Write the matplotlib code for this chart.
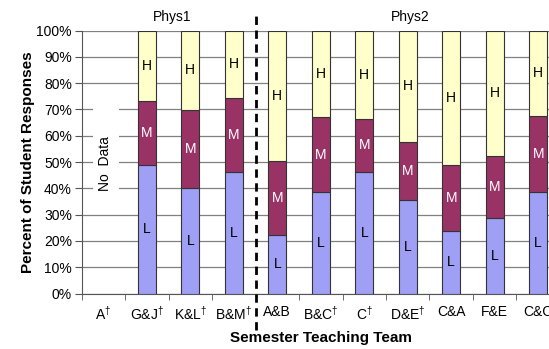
import numpy as np
import matplotlib
matplotlib.use("Agg")
import matplotlib.pyplot as plt
import matplotlib.transforms as mtransforms
from matplotlib.patches import Rectangle

plt.rcParams['font.family'] = ['Liberation Sans', 'DejaVu Sans']
plt.rcParams['mathtext.fontset'] = 'custom'
plt.rcParams['mathtext.rm'] = 'Liberation Sans'
plt.rcParams['mathtext.it'] = 'Liberation Sans'
plt.rcParams['mathtext.bf'] = 'Liberation Sans:bold'

# teams (A has no data)
teams = ['A', 'G&J', 'K&L', 'B&M', 'A&B', 'B&C', 'C', 'D&E', 'C&A', 'F&E', 'C&C']
dagger = [True, True, True, True, False, True, True, True, False, False, False]
low = [np.nan, 48.9, 40.2, 46.3, 22.2, 38.6, 46.2, 35.4, 23.8, 28.6, 38.7]
mid = [np.nan, 24.3, 29.6, 28.0, 28.3, 28.4, 20.3, 22.1, 24.9, 23.8, 28.9]
high = [100 - l - m for l, m in zip(low, mid)]

c_low = '#9F9FF5'
c_mid = '#993366'
c_high = '#FFFFCC'

fig = plt.figure(figsize=(5.49, 3.49), dpi=100)
ax = fig.add_axes([0.1488, 0.159, 0.871, 0.7536])

x = np.arange(len(teams))
w = 0.41
for i in x:
    if np.isnan(low[i]):
        continue
    ax.bar(i, low[i], w, color=c_low, edgecolor='#333333', linewidth=0.8, zorder=3)
    ax.bar(i, mid[i], w, bottom=low[i], color=c_mid, edgecolor='#333333', linewidth=0.8, zorder=3)
    ax.bar(i, high[i], w, bottom=low[i] + mid[i], color=c_high, edgecolor='#333333', linewidth=0.8, zorder=3)
    ax.text(i, low[i] / 2, 'L', ha='center', va='center', fontsize=10, color='black', zorder=4)
    ax.text(i, low[i] + mid[i] / 2, 'M', ha='center', va='center', fontsize=10, color='white', zorder=4)
    ax.text(i, low[i] + mid[i] + high[i] / 2, 'H', ha='center', va='center', fontsize=10, color='black', zorder=4)

# no data marker for team A
ax.add_patch(Rectangle((-0.24, 38), 0.6, 34, facecolor='white', edgecolor='none', zorder=2))
ax.text(0.04, 49.5, 'No  Data', rotation=90, ha='center', va='center', fontsize=10, zorder=4)

ax.set_xlim(-0.5, len(teams) - 0.5)
ax.set_ylim(0, 100)
ax.set_yticks(np.arange(0, 101, 10))
ax.set_yticklabels([f'{v}%' for v in range(0, 101, 10)], fontsize=10)
ax.set_xticks(x)
ax.set_xticklabels([t + (r'$^{\dagger}$' if d else '') for t, d in zip(teams, dagger)], fontsize=10)
ax.set_xticks(np.arange(-0.5, len(teams), 1), minor=True)
ax.tick_params(axis='x', which='major', length=0, pad=8)
ax.tick_params(axis='x', which='minor', length=4, color='#555555', direction='out')
ax.tick_params(axis='y', length=5, color='#555555', direction='out', pad=2)

ax.yaxis.grid(True, color='#808080', linewidth=0.9, zorder=0)
ax.set_axisbelow(True)
for s in ['top', 'right']:
    ax.spines[s].set_visible(False)
ax.spines['left'].set_color('#555555')
ax.spines['bottom'].set_color('#555555')

ax.set_ylabel('Percent of Student Responses', fontsize=11, fontweight='bold')
ax.yaxis.set_label_coords(-0.0976, 0.5)
ax.set_xlabel('Semester Teaching Team', fontsize=11, fontweight='bold', labelpad=6)

# course divider and group labels
trans = mtransforms.blended_transform_factory(ax.transData, ax.transAxes)
ax.plot([3.5, 3.5], [-0.14, 1.07], transform=trans, color='black', lw=2,
        linestyle=(0, (3, 2)), clip_on=False, zorder=5)
ax.text(1.58, 1.05, 'Phys1', transform=trans, ha='center', va='center', fontsize=10)
ax.text(7.06, 1.05, 'Phys2', transform=trans, ha='center', va='center', fontsize=10)

fig.savefig('out.png', dpi=100)
